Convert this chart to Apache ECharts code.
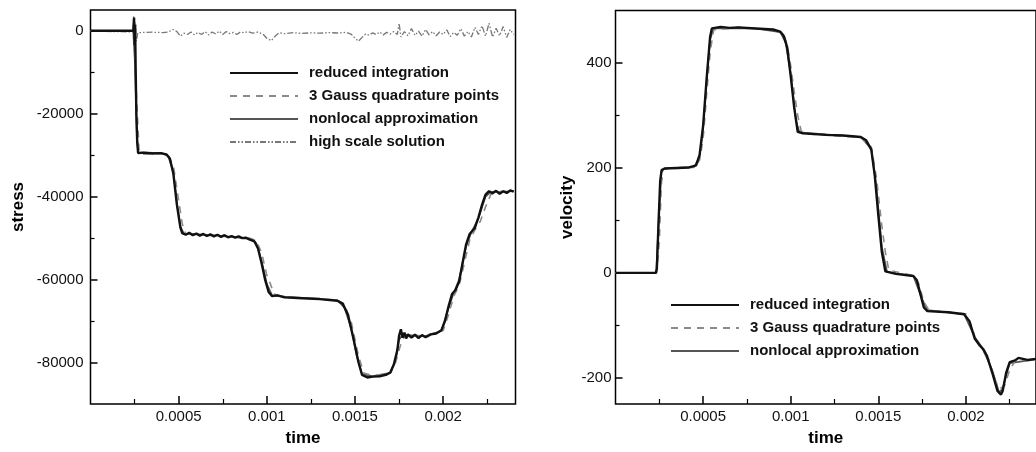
<!DOCTYPE html>
<html>
<head>
<meta charset="utf-8">
<script src="https://cdn.jsdelivr.net/npm/echarts@6/dist/echarts.min.js"></script>
<style>
  html, body { margin: 0; padding: 0; background: #fff; }
  #chart { width: 1036px; height: 452px; }
</style>
</head>
<body>
<div id="chart"></div>
<script>
// ---- data: [time, value] ----
const names = ['reduced integration', '3 Gauss quadrature points', 'nonlocal approximation', 'high scale solution'];

// tick values
const timeMajor = [0.0005, 0.001, 0.0015, 0.002];
const timeMinor = [0.00025, 0.00075, 0.00125, 0.00175, 0.00225];
const stressMajor = [0, -20000, -40000, -60000, -80000];
const stressMinor = [-10000, -30000, -50000, -70000];
const velocityMajor = [-200, 0, 200, 400];
const velocityMinor = [-100, 100, 300];

// left plot: stress
const stressReduced = [
  [0, 0], [0.00023, 0], [0.000243, 0], [0.000247, 3200], [0.00025, -3500], [0.000253, 1500], [0.000256, -9000],
  [0.00026, -20000], [0.000265, -27000], [0.00027, -29500], [0.0003, -29400], [0.00035, -29600], [0.0004, -29500],
  [0.00043, -29800], [0.00045, -30800], [0.00047, -34500], [0.00049, -42000], [0.00051, -47500], [0.00052, -48800],
  [0.00054, -49200], [0.00056, -48700], [0.00058, -49300], [0.0006, -48900], [0.00062, -49400], [0.00064, -49000],
  [0.00066, -49500], [0.00068, -49100], [0.0007, -49600], [0.00072, -49200], [0.00074, -49700], [0.00076, -49300],
  [0.00078, -49800], [0.0008, -49500], [0.00082, -49900], [0.00084, -49600], [0.00086, -50000], [0.00088, -49900],
  [0.0009, -50300], [0.00093, -50800], [0.00095, -52500], [0.00097, -56000], [0.00099, -60000], [0.00101, -63000],
  [0.00103, -64000], [0.00106, -63800], [0.0011, -64300], [0.0012, -64500], [0.0013, -64700], [0.0014, -65100],
  [0.00143, -65800], [0.00146, -68500], [0.00149, -74000], [0.00152, -80000], [0.00154, -83000], [0.00157, -83600],
  [0.0016, -83400], [0.00164, -83300], [0.00168, -82900], [0.0017, -82400], [0.00172, -80500], [0.00174, -77000],
  [0.00175, -73500], [0.00176, -72000], [0.00177, -74000], [0.00178, -72800], [0.00179, -74200], [0.0018, -73200],
  [0.00182, -74000], [0.00184, -73300], [0.00186, -74100], [0.00188, -73400], [0.0019, -73900], [0.00193, -73200],
  [0.00196, -73000], [0.00199, -72200], [0.00201, -70000], [0.00203, -66500], [0.00205, -63500], [0.00207, -62500],
  [0.00209, -60500], [0.00211, -56000], [0.00213, -51500], [0.00215, -49000], [0.00218, -47500], [0.0022, -45000],
  [0.00222, -42000], [0.00224, -39500], [0.00226, -38700], [0.00228, -39200], [0.0023, -38600], [0.00232, -39300],
  [0.00234, -38700], [0.00236, -39100], [0.00238, -38500], [0.0024, -38800]
];
const stressGauss = [
  [0, 0], [0.000245, 0], [0.00026, -15000], [0.000275, -28500], [0.00029, -29800], [0.0004, -29600], [0.00044, -30000],
  [0.00047, -32500], [0.0005, -41000], [0.00052, -46500], [0.00054, -49000], [0.0007, -49400], [0.0009, -50000],
  [0.00094, -50600], [0.00097, -53500], [0.001, -59000], [0.00102, -61000], [0.00104, -63500], [0.0011, -64200],
  [0.0014, -64900], [0.00144, -66000], [0.00148, -70500], [0.00152, -78500], [0.00155, -82500], [0.0016, -83200],
  [0.0017, -82600], [0.00173, -80000], [0.00176, -75500], [0.00178, -73800], [0.0019, -73500], [0.002, -72300],
  [0.00203, -68500], [0.00206, -64000], [0.00209, -61500], [0.00212, -56000], [0.00215, -50500], [0.00218, -48000],
  [0.00221, -46000], [0.00224, -42500], [0.00227, -39500], [0.0023, -38900], [0.0024, -38600]
];
const stressNonlocal = [
  [0, 0], [0.000242, 0], [0.000252, -8000], [0.000262, -24000], [0.00027, -29300], [0.0004, -29500], [0.00044, -30200],
  [0.00047, -34000], [0.00049, -41500], [0.00051, -47200], [0.00053, -48900], [0.0007, -49300], [0.0009, -50100],
  [0.00094, -51200], [0.00097, -55500], [0.001, -61000], [0.00103, -63800], [0.0011, -64100], [0.0014, -65000],
  [0.00144, -66800], [0.00148, -72000], [0.00151, -78500], [0.00154, -82800], [0.0016, -83300], [0.0017, -82500],
  [0.00173, -79500], [0.00175, -74500], [0.00177, -73300], [0.0019, -73600], [0.00199, -72400], [0.00203, -67000],
  [0.00206, -63200], [0.00209, -60000], [0.00213, -52000], [0.00216, -48600], [0.0022, -45200], [0.00224, -40000],
  [0.00227, -38900], [0.0024, -38700]
];
const stressHighScale = [
  [0, 0], [0.00013, -200], [0.00024, -300], [0.000245, 3500], [0.00025, -4000], [0.000255, 2000], [0.00026, -2500],
  [0.000268, -500], [0.0003, -400], [0.00035, -350], [0.00041, -450], [0.00044, -300], [0.00047, 300], [0.00049, -200],
  [0.00051, -1300], [0.00053, -600], [0.00055, -900], [0.00057, -300], [0.00059, -1000], [0.00061, -400], [0.00063, -900],
  [0.00065, -200], [0.00067, -1000], [0.00069, -300], [0.00071, -800], [0.00073, -100], [0.00075, -900], [0.00077, -200],
  [0.00079, -700], [0.00081, -400], [0.00083, -900], [0.00085, -300], [0.00087, -500], [0.00089, -200], [0.00092, -600],
  [0.00095, -300], [0.00098, -900], [0.001, -1800], [0.001025, -2400], [0.00105, -1200], [0.00107, -500], [0.0011, -700],
  [0.00115, -450], [0.0012, -650], [0.00125, -500], [0.0013, -600], [0.00135, -450], [0.0014, -550], [0.00145, -400],
  [0.00148, -900], [0.0015, -1800], [0.00152, -2500], [0.00154, -1600], [0.00156, -800], [0.00158, -1100], [0.0016, -500],
  [0.00162, -900], [0.00164, -300], [0.00166, -1000], [0.00168, -400], [0.0017, -800], [0.00172, -200], [0.00174, -900],
  [0.00175, 1800], [0.00176, -1500], [0.00178, -200], [0.0018, -1200], [0.00182, 500], [0.00184, -1100], [0.00186, -100],
  [0.00188, -1300], [0.0019, 300], [0.00192, -1000], [0.00194, -200], [0.00196, -1200], [0.00198, -300], [0.002, -900],
  [0.00202, 200], [0.00204, -1400], [0.00206, -400], [0.00208, -1100], [0.0021, 500], [0.00212, -1300], [0.00214, -200],
  [0.00216, -1500], [0.00218, 800], [0.0022, -900], [0.00222, 1200], [0.00224, -1300], [0.00226, 1800], [0.00228, -1500],
  [0.0023, 600], [0.00232, -1200], [0.00234, 1000], [0.00236, -1600], [0.00238, 300], [0.0024, -900]
];

// right plot: velocity
const velocityReduced = [
  [0, 0], [0.00023, 0], [0.000236, 8], [0.000245, 90], [0.000255, 175], [0.000263, 196], [0.00028, 199], [0.00035, 200],
  [0.00042, 201], [0.00046, 205], [0.00048, 225], [0.0005, 280], [0.00052, 370], [0.00054, 450], [0.00055, 466],
  [0.0006, 469], [0.00065, 467], [0.0007, 468], [0.0008, 466], [0.0009, 464], [0.00094, 460], [0.00096, 452],
  [0.00098, 430], [0.001, 375], [0.00102, 315], [0.00104, 269], [0.00107, 266], [0.0012, 263], [0.0013, 262],
  [0.0014, 259], [0.00143, 253], [0.00146, 235], [0.00148, 185], [0.0015, 110], [0.00152, 40], [0.00154, 3],
  [0.0016, -2], [0.0017, -6], [0.00172, -14], [0.00174, -40], [0.00176, -66], [0.00178, -73], [0.0019, -75],
  [0.00199, -79], [0.00202, -92], [0.00205, -125], [0.00208, -139], [0.0021, -146], [0.00212, -158], [0.00215, -190],
  [0.00218, -225], [0.0022, -232], [0.00221, -225], [0.00223, -190], [0.00225, -170], [0.00228, -167], [0.0023, -162],
  [0.00235, -166], [0.0024, -164]
];
const velocityGauss = [
  [0, 0], [0.000235, 0], [0.00025, 60], [0.000262, 170], [0.000272, 198], [0.00045, 201], [0.00048, 215], [0.0005, 255],
  [0.00052, 340], [0.00054, 420], [0.00056, 463], [0.0007, 468], [0.0009, 464], [0.00096, 455], [0.00098, 435],
  [0.001, 395], [0.00102, 345], [0.00104, 300], [0.00106, 270], [0.0011, 265], [0.0014, 258], [0.00146, 240],
  [0.00149, 180], [0.00152, 90], [0.00154, 40], [0.00156, 5], [0.0017, -5], [0.00173, -20], [0.00176, -55],
  [0.00179, -72], [0.002, -78], [0.00203, -100], [0.00206, -130], [0.00209, -142], [0.00213, -165], [0.00216, -200],
  [0.00219, -222], [0.00222, -215], [0.00225, -185], [0.00228, -168], [0.0024, -165]
];
const velocityNonlocal = [
  [0, 0], [0.000232, 0], [0.000248, 110], [0.000262, 192], [0.00028, 199], [0.00045, 202], [0.00048, 222], [0.0005, 275],
  [0.00052, 365], [0.00054, 445], [0.00056, 466], [0.0008, 466], [0.00094, 459], [0.00097, 440], [0.001, 380],
  [0.00103, 290], [0.00105, 268], [0.0014, 259], [0.00146, 236], [0.00149, 160], [0.00152, 50], [0.00155, 2],
  [0.0017, -6], [0.00175, -50], [0.00178, -71], [0.00199, -79], [0.00205, -122], [0.00209, -141], [0.00215, -185],
  [0.00219, -228], [0.00221, -220], [0.00225, -172], [0.0024, -165]
];

// ---- chart ----
const FONT = 'Liberation Sans, Arial, Helvetica, sans-serif';

// line look per series name
const lineStyles = {
  'reduced integration': { color: '#111', width: 2.4, type: 'solid' },
  '3 Gauss quadrature points': { color: '#8a8a8a', width: 1.6, type: [7, 6] },
  'nonlocal approximation': { color: '#555', width: 1.6, type: 'solid' },
  'high scale solution': { color: '#777', width: 1.3, type: [6, 2, 1.5, 2, 1.5, 2] }
};
const zOrder = { 'reduced integration': 4, '3 Gauss quadrature points': 3, 'nonlocal approximation': 2, 'high scale solution': 1 };

function line(name, data, idx) {
  return {
    name,
    type: 'line',
    data,
    xAxisIndex: idx * 2,
    yAxisIndex: idx * 2,
    showSymbol: false,
    symbol: 'none',
    silent: true,
    animation: false,
    z: zOrder[name],
    lineStyle: lineStyles[name],
    itemStyle: { color: lineStyles[name].color }
  };
}

// one pair of axes (labels + long ticks) and a hidden pair (short ticks)
function xAxes(gridIndex, max) {
  const base = { type: 'value', gridIndex, min: 0, max, position: 'bottom', splitLine: { show: false }, axisLine: { show: false, onZero: false } };
  return [
    Object.assign({}, base, {
      name: 'time',
      nameLocation: 'middle',
      nameGap: 26,
      nameTextStyle: { fontSize: 17, fontWeight: 'bold', color: '#000', fontFamily: FONT },
      axisTick: { inside: true, length: 8, lineStyle: { color: '#000', width: 1.5 }, customValues: timeMajor },
      axisLabel: { customValues: timeMajor, margin: 5, fontSize: 15, color: '#111', fontFamily: FONT, formatter: v => String(v) }
    }),
    Object.assign({}, base, {
      axisTick: { inside: true, length: 5, lineStyle: { color: '#000', width: 1.2 }, customValues: timeMinor },
      axisLabel: { show: false }
    })
  ];
}

function yAxes(gridIndex, min, max, major, minor, name, nameGap, labelMargin) {
  const base = { type: 'value', gridIndex, min, max, position: 'left', splitLine: { show: false }, axisLine: { show: false, onZero: false } };
  return [
    Object.assign({}, base, {
      name,
      nameLocation: 'middle',
      nameGap,
      nameTextStyle: { fontSize: 17, fontWeight: 'bold', color: '#000', fontFamily: FONT },
      axisTick: { inside: true, length: 7, lineStyle: { color: '#000', width: 1.5 }, customValues: major },
      axisLabel: { customValues: major, margin: labelMargin, fontSize: 15, color: '#111', fontFamily: FONT, formatter: v => String(v) }
    }),
    Object.assign({}, base, {
      axisTick: { inside: true, length: 4, lineStyle: { color: '#000', width: 1.2 }, customValues: minor },
      axisLabel: { show: false }
    })
  ];
}

const legendText = { fontSize: 15, fontWeight: 'bold', color: '#111', fontFamily: FONT, lineHeight: 16, padding: [0, 0, 0, 6] };

const legendBase = {
  orient: 'vertical',
  padding: 0,
  itemWidth: 68,
  itemHeight: 14,
  itemGap: 7,
  selectedMode: false,
  itemStyle: { opacity: 0 },
  textStyle: legendText
};

const option = {
  animation: false,
  backgroundColor: '#fff',
  textStyle: { fontFamily: FONT },
  grid: [
    { left: 90.5, top: 10, width: 425, height: 398, show: true, borderColor: '#000', borderWidth: 1.5, containLabel: false },
    { left: 615.5, top: 10.6, width: 427, height: 398, show: true, borderColor: '#000', borderWidth: 1.5, containLabel: false }
  ],
  legend: [
    Object.assign({}, legendBase, { data: names, left: 229, top: 65 }),
    Object.assign({}, legendBase, { data: names.slice(0, 3), left: 670, top: 297 })
  ],
  xAxis: [].concat(xAxes(0, 0.00241), xAxes(1, 0.0024)),
  yAxis: [].concat(
    yAxes(0, -90000, 5000, stressMajor, stressMinor, 'stress', 64, 7),
    yAxes(1, -250, 500, velocityMajor, velocityMinor, 'velocity', 40, 4)
  ),
  series: [
    line('reduced integration', stressReduced, 0),
    line('3 Gauss quadrature points', stressGauss, 0),
    line('nonlocal approximation', stressNonlocal, 0),
    line('high scale solution', stressHighScale, 0),
    line('reduced integration', velocityReduced, 1),
    line('3 Gauss quadrature points', velocityGauss, 1),
    line('nonlocal approximation', velocityNonlocal, 1)
  ]
};

const chart = echarts.init(document.getElementById('chart'), null, { renderer: 'canvas' });
chart.setOption(option);
</script>
</body>
</html>
